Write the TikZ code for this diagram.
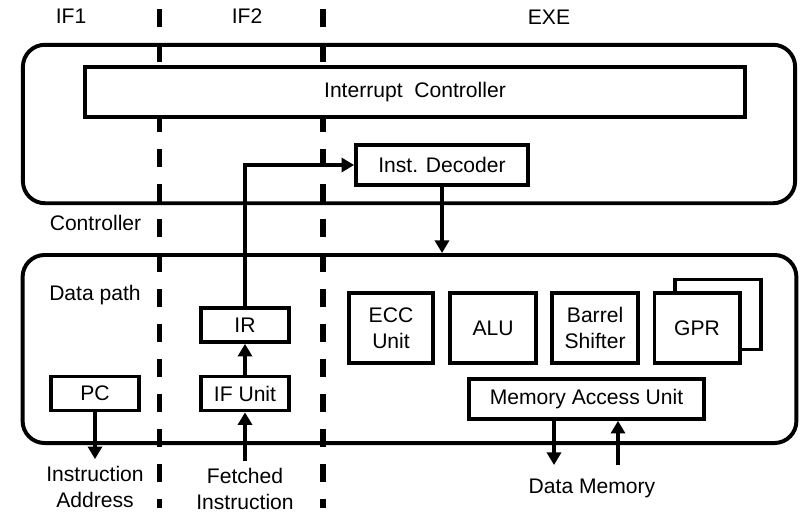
\documentclass[tikz,border=0pt]{standalone}
\usepackage{fontspec}
\setmainfont{Liberation Sans}
\usetikzlibrary{positioning,calc,arrows.meta}

\begin{document}
\begin{tikzpicture}[x=0.025cm,y=-0.025cm,node distance=2.55cm,
        font=\fontsize{15}{18.2}\selectfont,
        blk/.style={draw,line width=2.6pt,fill=white,inner sep=0pt,align=center},
        grp/.style={draw,line width=2.8pt,rounded corners=0.55cm,inner sep=0pt},
        ln/.style={line width=2.4pt,-{Triangle[length=9pt,width=10pt]}},
        stage/.style={line width=3.6pt,dash pattern=on 0.45cm off 0.425cm}]
    \useasboundingbox (0,0) rectangle (800,514);

    % pipeline stages
    \foreach \x in {159.5,323} {
        \draw[stage] (\x,9) -- (\x,508); }
    \node[anchor=base] (if1) at (71,23) {IF1};
    \node[anchor=base] (if2) at (247,23) {IF2};
    \node[anchor=base] (exe) at (549,24) {EXE};

    % controller
    \node[grp,minimum width=19.3cm,minimum height=3.96cm] (ctrl) at (409,124) {};
    \node[blk,minimum width=16.5cm,minimum height=1.25cm] (irq) at (415,92) {Interrupt~~Controller};
    \node[blk,minimum width=4.3cm,minimum height=1cm] (dec) at (442,165) {Inst. Decoder};
    \node[anchor=base] (ctrllbl) at (95.5,230) {Controller};

    % data path
    \node[grp,minimum width=19.34cm,minimum height=4.7cm] (dp) at (409.5,349) {};
    \node[anchor=base] (dplbl) at (95,300) {Data path};
    \node[blk,minimum width=2.2cm,minimum height=0.85cm] (pc) at (95,393.5) {PC};
    \node[blk,minimum width=2.2cm,minimum height=0.85cm] (ifu) at (245,393.5) {IF Unit};
    \node[blk,minimum width=2.2cm,minimum height=0.85cm] (ir) at (245,325) {IR};

    \node[blk,minimum width=2.1cm,minimum height=1.75cm] (ecc) at (391,328) {ECC\\Unit};
    \node[blk,minimum width=2.15cm,minimum height=1.75cm,right of=ecc] (alu) {ALU};
    \node[blk,minimum width=2.15cm,minimum height=1.75cm,right of=alu] (bsh) {Barrel\\Shifter};
    \node[blk,minimum width=2.15cm,minimum height=1.75cm] (gprb) at (718,314.5) {};
    \node[blk,minimum width=2.13cm,minimum height=1.75cm,right of=bsh] (gpr) {GPR};
    \node[blk,minimum width=5.875cm,minimum height=1cm] (mau) at (586.5,399) {Memory Access Unit};

    % outside
    \node[align=center,inner sep=5pt] (ia) at (95,487) {Instruction\\Address};
    \node[align=center,inner sep=5pt] (fi) at (245,489) {Fetched\\Instruction};
    \node[anchor=base] (dm) at (592,493) {Data Memory};
    \coordinate (dmout) at (554,465);
    \coordinate (dmin) at (618,465);

    % connections
    \draw[ln] (pc) -- (ia);
    \draw[ln] (fi) -- (ifu);
    \draw[ln] (ifu) -- (ir);
    \draw[ln] (ir.north) |- (dec.west);
    \draw[ln] (dec.south) -- (dec.south |- dp.north);
    \draw[ln] (mau.south -| dmout) -- (dmout);
    \draw[ln] (dmin) -- (mau.south -| dmin);
\end{tikzpicture}
\end{document}
